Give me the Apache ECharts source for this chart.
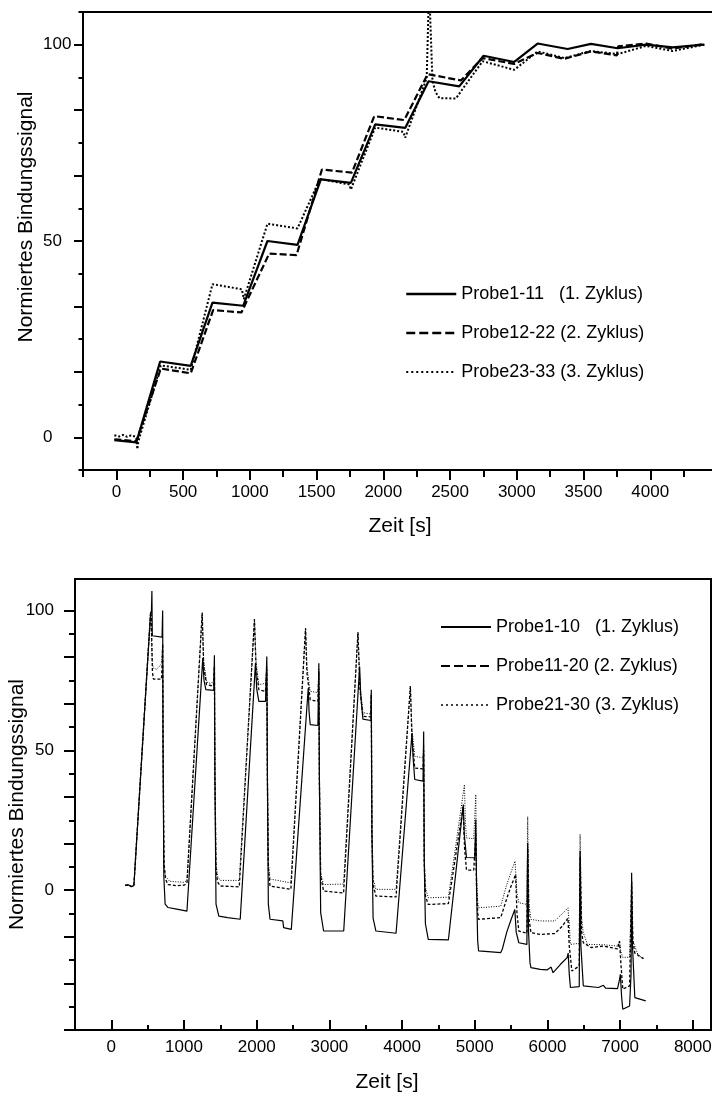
<!DOCTYPE html>
<html>
<head>
<meta charset="utf-8">
<script src="https://cdn.jsdelivr.net/npm/echarts@6/dist/echarts.min.js"></script>
<style>
  html, body { margin: 0; padding: 0; background: #fff; }
  #chart { width: 712px; height: 1097px; }
</style>
</head>
<body>
<div id="chart"></div>
<script>
// ---------- top panel (Zyklus 1-3, Probe 1-33) ----------
const topNames = ["Probe1-11   (1. Zyklus)", "Probe12-22 (2. Zyklus)", "Probe23-33 (3. Zyklus)"];

const top1 = [[-15,-0.7],[60,-1.0],[150,-1.3],[328,19.3],[557,18.2],[720,34.3],[950,33.5],[1132,50.0],[1357,49.0],
  [1532,65.7],[1757,64.8],[1939,79.7],[2164,78.8],[2339,90.7],[2569,89.4],[2751,97.2],[2981,95.6],[3156,100.3],
  [3381,98.9],[3556,100.2],[3756,99.1],[3969,100.0],[4168,99.3],[4405,100.0]];

const top2 = [[-15,-0.5],[150,-1.0],[333,17.5],[557,16.3],[725,32.4],[937,31.8],[1145,46.8],[1350,46.4],
  [1540,68.2],[1765,67.4],[1932,81.8],[2157,80.8],[2332,92.5],[2581,90.9],[2744,96.6],[2981,95.1],[3156,97.9],
  [3356,96.4],[3556,98.3],[3750,97.3],[3760,99.6],[3969,100.3],[4168,99.0],[4405,100.2]];

const top3 = [[-15,0.5],[20,0.2],[50,0.6],[80,0.1],[110,0.5],[140,0.2],[150,-0.5],[157,-3.0],[165,-1.0],
  [333,18.3],[557,17.2],[720,39.0],[940,37.7],[955,35.2],[1132,54.4],[1357,53.2],[1525,65.8],[1745,64.4],
  [1757,63.1],[1939,78.9],[2150,77.8],[2164,76.3],[2325,91.5],[2343,115],[2352,115],[2368,91.0],[2390,88.0],
  [2420,86.4],[2544,86.3],[2600,89.0],[2744,95.8],[2981,93.6],[3156,98.3],[3356,96.6],[3556,98.4],[3756,97.6],
  [3969,99.7],[4168,98.4],[4405,100.0]];

const topXMajor = [0, 500, 1000, 1500, 2000, 2500, 3000, 3500, 4000, 4500];
const topXLabels = [0, 500, 1000, 1500, 2000, 2500, 3000, 3500, 4000];
const topXMinor = [-250, 250, 750, 1250, 1750, 2250, 2750, 3250, 3750, 4250];
const topYMajor = [0, 16.667, 33.333, 50, 66.667, 83.333, 100];
const topYMinor = [-8.333, 8.333, 25, 41.667, 58.333, 75, 91.667, 108.333];
const yLabels = [0, 50, 100];

// ---------- bottom panel (Zyklus 1-3, Probe 1-30) ----------
const botNames = ["Probe1-10   (1. Zyklus)", "Probe11-20 (2. Zyklus)", "Probe21-30 (3. Zyklus)"];

const bot1 = [[188,1.7],[215,1.2],[240,1.9],[270,1.3],[310,1.6],
  [540,99],[552,100],[558,107],[563,91],[580,90.5],[698,90.5],[706,100],[712,50],[722,5],[740,-5],[780,-6.2],[900,-6.8],[1040,-7.5],
  [1258,83],[1275,75],[1300,71.7],[1409,71.5],[1418,84],[1425,40],[1440,-5],[1479,-9.3],[1600,-9.8],[1773,-10.4],
  [1983,81.2],[2000,72],[2029,67.5],[2121,67.5],[2139,83.6],[2147,40],[2160,-5],[2183,-10.4],[2360,-11],[2370,-13.4],[2476,-14],
  [2709,72.3],[2720,64],[2736,59.2],[2842,58.9],[2855,81.2],[2862,40],[2880,-8],[2920,-14.6],[3197,-14.6],
  [3416,80],[3430,70],[3461,61.2],[3570,60.7],[3576,71.7],[3585,20],[3601,-10],[3640,-14.6],[3917,-15.4],
  [4137,56.2],[4150,48],[4174,39.6],[4288,39],[4297,56.8],[4305,10],[4321,-12],[4360,-17.6],[4637,-17.8],
  [4842,30.6],[4855,20],[4886,11.7],[5000,11.6],[5014,25.3],[5025,0],[5040,-18],[5052,-21.7],[5357,-22.3],
  [5380,-21],[5440,-15],[5500,-10.5],[5551,-6.9],[5570,-15],[5606,-18.8],[5717,-19.4],[5728,16.9],[5740,-15],[5760,-26],[5773,-27.7],
  [5900,-28.3],[5994,-28.5],[6050,-27.5],[6077,-29.5],[6180,-26.5],[6271,-24.1],[6285,-22.5],[6300,-30],[6316,-34.8],[6437,-34.5],
  [6449,12],[6460,-20],[6493,-34.2],[6700,-34.8],[6770,-34],[6800,-35],[6964,-35.2],[6991,-32],[7003,-30.1],[7020,-38],[7036,-42.6],
  [7130,-41.4],[7150,-30],[7158,6.2],[7170,-20],[7202,-38.4],[7352,-39.6]];

const bot2 = [[188,1.7],[215,1.2],[240,1.9],[270,1.3],[310,1.6],
  [540,99.5],[550,98],[565,78],[580,75.5],[690,75.5],[700,82],[706,88],[712,50],[725,10],[745,4],[780,2],[900,1.6],[1000,1.8],[1040,2.5],
  [1250,99.2],[1270,80],[1310,73.5],[1405,73],[1418,80],[1425,40],[1440,8],[1460,3],[1500,1.5],[1760,1.2],
  [1969,96.9],[1990,80],[2029,71.7],[2121,71.1],[2139,79],[2147,40],[2160,8],[2183,1.5],[2470,0.3],
  [2672,93.7],[2690,78],[2736,68.1],[2842,67.5],[2855,78],[2862,40],[2880,5],[2920,-0.3],[3195,-1],
  [3393,92.2],[3420,72],[3461,62.2],[3570,62],[3576,70],[3585,20],[3601,2],[3640,-2.1],[3917,-2.4],
  [4114,72.9],[4135,55],[4174,43.7],[4288,43.4],[4297,50],[4305,10],[4321,-2],[4360,-5.1],[4637,-4.8],
  [4840,30],[4860,15],[4886,7.2],[4986,7.2],[5014,20],[5025,0],[5040,-8],[5052,-10.4],[5357,-9.8],
  [5440,-3],[5500,1.5],[5562,5.6],[5580,-8],[5606,-14.6],[5717,-15.4],[5728,15],[5745,-10],[5773,-15.2],
  [5900,-15.8],[6100,-15.5],[6200,-13],[6282,-10],[6300,-20],[6336,-28.9],[6437,-27.1],[6449,14],[6470,-15],[6493,-18.8],
  [6600,-20.5],[6770,-20],[6964,-21],[6991,-18.2],[7010,-26],[7036,-35.4],[7130,-34.2],[7158,3],[7175,-18],[7202,-22.5],[7320,-24.5]];

const bot3 = [[188,1.7],[215,1.2],[240,1.9],[270,1.3],[310,1.6],
  [540,99.5],[562,82],[575,79.5],[620,79],[660,80],[690,81],[706,88],[712,40],[725,8],[745,5],[800,3.2],[1000,2.8],[1040,3.5],
  [1250,99.2],[1270,82],[1310,74.5],[1360,74],[1405,74.5],[1418,80],[1425,45],[1440,10],[1460,5],[1500,3.5],[1760,3.5],
  [1969,96.9],[1990,82],[2029,73.5],[2121,74],[2139,80],[2147,45],[2160,10],[2183,4],[2470,2.6],
  [2672,93.7],[2690,80],[2736,71.1],[2842,70.7],[2855,79],[2862,45],[2880,6],[2920,2],[3195,2.2],
  [3393,92.2],[3420,74],[3461,63.5],[3570,63],[3576,70],[3585,25],[3601,4],[3640,0.3],[3917,0.3],
  [4114,72.9],[4135,58],[4174,47.9],[4288,47.3],[4297,52],[4305,12],[4321,1],[4360,-2.7],[4637,-2.5],
  [4858,37.8],[4870,25],[4886,18.7],[4986,18.4],[5014,34.2],[5025,5],[5040,-4],[5052,-6.3],[5357,-5.7],
  [5440,2],[5500,6.5],[5554,10.4],[5580,-1],[5606,-4.5],[5717,-5.1],[5728,26.3],[5745,-5],[5773,-10.4],
  [5900,-11],[6100,-11],[6200,-8.5],[6282,-6.3],[6300,-12],[6316,-19.4],[6437,-19],[6449,20],[6470,-10],[6493,-15.2],
  [6550,-19.4],[6770,-19.5],[6964,-20],[6991,-18.2],[7010,-22],[7036,-24],[7130,-24],[7158,3],[7175,-18],[7250,-23.5],[7320,-24.2]];

const botXMajor = [0, 1000, 2000, 3000, 4000, 5000, 6000, 7000, 8000];
const botXMinor = [500, 1500, 2500, 3500, 4500, 5500, 6500, 7500];
const botYMajor = [-50, -33.333, -16.667, 0, 16.667, 33.333, 50, 66.667, 83.333, 100];
const botYMinor = [-41.667, -25, -8.333, 8.333, 25, 41.667, 58.333, 75, 91.667];

const FONT = "Liberation Sans, Arial, sans-serif";
const BLACK = "#000";
const plain = (v) => String(v);

// an axis that only draws a set of ticks (used for the short minor ticks)
function tickAxis(gridIndex, position, min, max, values, len, inside) {
    return {
        type: "value", gridIndex: gridIndex, position: position, min: min, max: max,
        axisLine: { show: false, onZero: false },
        splitLine: { show: false },
        axisLabel: { show: false },
        axisTick: { show: true, inside: inside, length: len, customValues: values,
            lineStyle: { color: BLACK, width: 2 } },
    };
}

const legendBase = {
    orient: "vertical", padding: 0,
    itemWidth: 50, itemHeight: 14, itemGap: 19,
    itemStyle: { color: "rgba(0,0,0,0)", borderWidth: 0, opacity: 0 },
    textStyle: { fontFamily: FONT, fontSize: 18, lineHeight: 20, color: BLACK },
};

const chart = echarts.init(document.getElementById("chart"), null, { renderer: "canvas" });

const option = {
    animation: false,
    backgroundColor: "#fff",
    textStyle: { fontFamily: FONT, color: BLACK },
    grid: [
        { left: 83, top: 12, width: 634, height: 458, show: true, borderColor: BLACK, borderWidth: 2,
          backgroundColor: "transparent", containLabel: false, outerBoundsMode: "none" },
        { left: 75, top: 579, width: 636, height: 451, show: true, borderColor: BLACK, borderWidth: 2,
          backgroundColor: "transparent", containLabel: false, outerBoundsMode: "none" },
    ],
    legend: [
        Object.assign({}, legendBase, {
            data: [
                { name: topNames[0], lineStyle: { width: 2.5, type: "solid" } },
                { name: topNames[1], lineStyle: { width: 2.5, type: [9, 4] } },
                { name: topNames[2], lineStyle: { width: 2, type: [2, 3] } },
            ],
            left: 405, top: 284,
        }),
        Object.assign({}, legendBase, {
            data: [
                { name: botNames[0], lineStyle: { width: 2, type: "solid" } },
                { name: botNames[1], lineStyle: { width: 2, type: [9, 4] } },
                { name: botNames[2], lineStyle: { width: 1.5, type: [2, 3] } },
            ],
            left: 440, top: 617,
        }),
    ],
    xAxis: [
        {
            type: "value", gridIndex: 0, position: "bottom", min: -250, max: 4500,
            name: "Zeit [s]", nameLocation: "middle", nameGap: 46, nameMoveOverlap: false,
            nameTextStyle: { fontFamily: FONT, fontSize: 21, color: BLACK },
            axisLine: { show: true, onZero: false, lineStyle: { color: BLACK, width: 2 } },
            axisTick: { show: true, length: 10, customValues: topXMajor, lineStyle: { color: BLACK, width: 2 } },
            axisLabel: { customValues: topXLabels, formatter: plain, margin: 14, fontSize: 17, fontFamily: FONT, color: BLACK },
            splitLine: { show: false },
        },
        tickAxis(0, "bottom", -250, 4500, topXMinor, 7, false),
        {
            type: "value", gridIndex: 1, position: "bottom", min: -500, max: 8250,
            name: "Zeit [s]", nameLocation: "middle", nameGap: 42, nameMoveOverlap: false,
            nameTextStyle: { fontFamily: FONT, fontSize: 21, color: BLACK, padding: [0, 12, 0, 0] },
            axisLine: { show: true, onZero: false, lineStyle: { color: BLACK, width: 2 } },
            axisTick: { show: true, inside: true, length: 10, customValues: botXMajor, lineStyle: { color: BLACK, width: 2 } },
            axisLabel: { customValues: botXMajor, formatter: plain, margin: 9, fontSize: 17, fontFamily: FONT, color: BLACK },
            splitLine: { show: false },
        },
        tickAxis(1, "bottom", -500, 8250, botXMinor, 5, true),
    ],
    yAxis: [
        {
            type: "value", gridIndex: 0, position: "left", min: -8.333, max: 108.333,
            name: "Normiertes Bindungssignal", nameLocation: "middle", nameGap: 46, nameMoveOverlap: false,
            nameTextStyle: { fontFamily: FONT, fontSize: 21, color: BLACK, padding: [0, 0, 0, 48] },
            axisLine: { show: true, onZero: false, lineStyle: { color: BLACK, width: 2 } },
            axisTick: { show: true, length: 9, customValues: topYMajor, lineStyle: { color: BLACK, width: 2 } },
            axisLabel: { customValues: yLabels, formatter: plain, align: "left", margin: 40, fontSize: 17, fontFamily: FONT, color: BLACK },
            splitLine: { show: false },
        },
        tickAxis(0, "left", -8.333, 108.333, topYMinor, 4.5, false),
        {
            type: "value", gridIndex: 1, position: "left", min: -50, max: 111.3,
            name: "Normiertes Bindungssignal", nameLocation: "middle", nameGap: 47, nameMoveOverlap: false,
            nameTextStyle: { fontFamily: FONT, fontSize: 21, color: BLACK },
            axisLine: { show: true, onZero: false, lineStyle: { color: BLACK, width: 2 } },
            axisTick: { show: true, length: 11, customValues: botYMajor, lineStyle: { color: BLACK, width: 2 } },
            axisLabel: { customValues: yLabels, formatter: plain, margin: 21, fontSize: 17, fontFamily: FONT, color: BLACK },
            splitLine: { show: false },
        },
        tickAxis(1, "left", -50, 111.3, botYMinor, 6, false),
    ],
    series: [
        { name: topNames[0], type: "line", xAxisIndex: 0, yAxisIndex: 0, data: top1, symbol: "none",
          itemStyle: { color: BLACK }, lineStyle: { color: BLACK, width: 2.2, type: "solid" } },
        { name: topNames[1], type: "line", xAxisIndex: 0, yAxisIndex: 0, data: top2, symbol: "none",
          itemStyle: { color: BLACK }, lineStyle: { color: BLACK, width: 2.2, type: [7, 3] } },
        { name: topNames[2], type: "line", xAxisIndex: 0, yAxisIndex: 0, data: top3, symbol: "none",
          itemStyle: { color: BLACK }, lineStyle: { color: BLACK, width: 2, type: [2, 2] } },
        { name: botNames[0], type: "line", xAxisIndex: 2, yAxisIndex: 2, data: bot1, symbol: "none",
          itemStyle: { color: BLACK }, lineStyle: { color: BLACK, width: 1.2, type: "solid" } },
        { name: botNames[1], type: "line", xAxisIndex: 2, yAxisIndex: 2, data: bot2, symbol: "none",
          itemStyle: { color: BLACK }, lineStyle: { color: BLACK, width: 1.3, type: [3, 2] } },
        { name: botNames[2], type: "line", xAxisIndex: 2, yAxisIndex: 2, data: bot3, symbol: "none",
          itemStyle: { color: BLACK }, lineStyle: { color: BLACK, width: 1, type: [1, 1.5] } },
    ],
};

chart.setOption(option);
</script>
</body>
</html>
